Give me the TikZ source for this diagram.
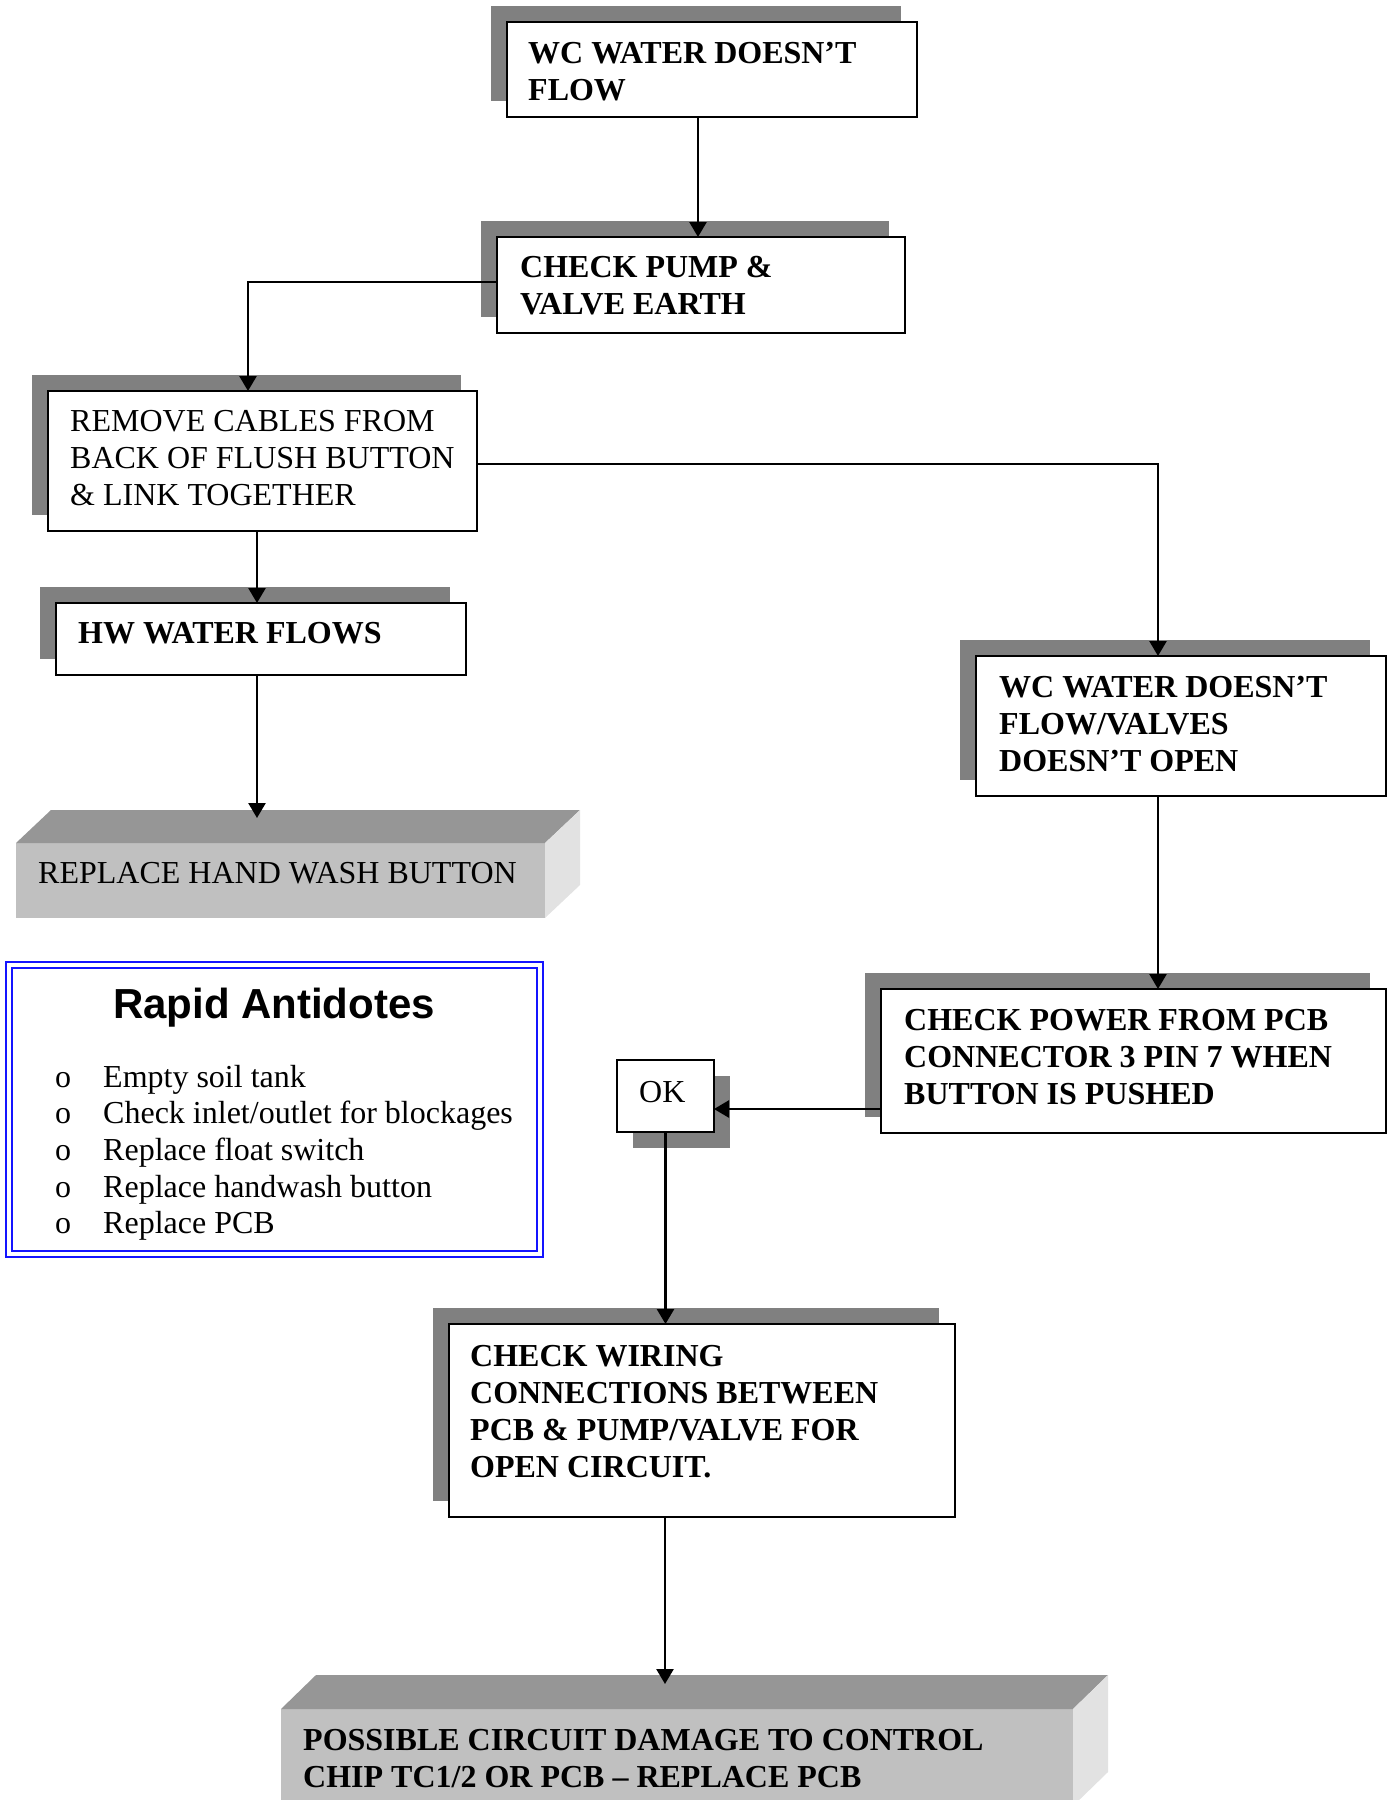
\documentclass[tikz,border=0pt]{standalone}
\usepackage{fontspec}
\setmainfont{Liberation Serif}
\newfontfamily\arialf{Liberation Sans}
\usetikzlibrary{arrows.meta}
\definecolor{shadowgray}{HTML}{808080}
\definecolor{frontgray}{HTML}{C0C0C0}
\definecolor{topgray}{HTML}{969696}
\definecolor{sidegray}{HTML}{E2E2E2}
\definecolor{rapidblue}{HTML}{1414FF}
\begin{document}
\begin{tikzpicture}[x=1pt,y=-1pt,
  box/.style={draw=black, line width=2.5pt, fill=white, inner sep=0pt, outer sep=0pt, anchor=north west},
  shade/.style={fill=shadowgray},
  face/.style={fill=frontgray, inner sep=0pt, outer sep=0pt, anchor=north west},
  tb/.style={anchor=base west, inner sep=0pt, align=left, font=\fontsize{32}{37}\selectfont\bfseries},
  tr/.style={anchor=base west, inner sep=0pt, align=left, font=\fontsize{32}{37}\selectfont},
  conn/.style={line width=2.5pt, -{Triangle[length=15pt,width=17pt]}},
]
\useasboundingbox (0,0) rectangle (1394,1800);
\clip (0,0) rectangle (1394,1800);

% shadows
\fill[shade] (491,6) rectangle ++(410,95);
\fill[shade] (481,221) rectangle ++(408,96);
\fill[shade] (32,375) rectangle ++(429,140);
\fill[shade] (40,587) rectangle ++(410,72);
\fill[shade] (960,640) rectangle ++(410,140);
\fill[shade] (865,973) rectangle ++(505,144);
\fill[shade] (633,1076) rectangle ++(97,72);
\fill[shade] (433,1308) rectangle ++(506,193);

% boxes
\node[box, minimum width=410, minimum height=95] (b1) at (507,22) {};
\node[box, minimum width=408, minimum height=96] (b2) at (497,237) {};
\node[box, minimum width=429, minimum height=140] (b3) at (48,391) {};
\node[box, minimum width=410, minimum height=72] (b4) at (56,603) {};
\node[box, minimum width=410, minimum height=140] (b6) at (976,656) {};
\node[box, minimum width=505, minimum height=144] (b7) at (881,989) {};
\node[box, minimum width=97, minimum height=72] (ok) at (617,1060) {};
\node[box, minimum width=506, minimum height=193] (b8) at (449,1324) {};

% 3D boxes
\node[face, minimum width=529, minimum height=75] (b5) at (16,843) {};
\fill[topgray] (b5.north west) -- ++(35,-33) -- ++(529,0) -- (b5.north east) -- cycle;
\fill[sidegray] (b5.north east) -- ++(35,-33) -- ++(0,75) -- (b5.south east) -- cycle;
\node[face, minimum width=792, minimum height=97] (b9) at (281,1709) {};
\fill[topgray] (b9.north west) -- ++(35,-34) -- ++(792,0) -- (b9.north east) -- cycle;
\fill[sidegray] (b9.north east) -- ++(35,-34) -- ++(0,97) -- (b9.south east) -- cycle;
\coordinate (b5top) at (257,818);
\coordinate (b9top) at (665,1684);

% texts (anchor = baseline of last line)
\node[tb] (t1) at (528,100) {WC WATER DOESN’T\\FLOW};
\node[tb] (t2) at (520,314) {CHECK PUMP \&\\VALVE EARTH};
\node[tr] (t3) at (70,505) {REMOVE CABLES FROM\\BACK OF FLUSH BUTTON\\\& LINK TOGETHER};
\node[tb] (t4) at (78,643) {HW WATER FLOWS};
\node[tr] (t5) at (38,883) {REPLACE HAND WASH BUTTON};
\node[tb] (t6) at (999,771) {WC WATER DOESN’T\\FLOW/VALVES\\DOESN’T OPEN};
\node[tb] (t7) at (904,1104) {CHECK POWER FROM PCB\\CONNECTOR 3 PIN 7 WHEN\\BUTTON IS PUSHED};
\node[tr] (tok) at (639,1102) {OK};
\node[tb] (t8) at (470,1477) {CHECK WIRING\\CONNECTIONS BETWEEN\\PCB \& PUMP/VALVE FOR\\OPEN CIRCUIT.};
\node[tb] (t9) at (303,1787) {POSSIBLE CIRCUIT DAMAGE TO CONTROL\\CHIP TC1/2 OR PCB – REPLACE PCB};

% rapid antidotes
\node[draw=rapidblue, line width=2.5pt, double=white, double distance=3.5pt, minimum width=531, minimum height=289, inner sep=0pt] (rapid) at (274.5,1109.5) {};
\node[anchor=base, inner sep=0pt, font=\arialf\bfseries\fontsize{42}{48}\selectfont] (rtitle) at (274,1018) {Rapid Antidotes};
\foreach \yy/\txt [count=\i] in {1087/Empty soil tank, 1123/Check inlet\slash outlet for blockages, 1160/Replace float switch, 1197/Replace handwash button, 1233/Replace PCB}{
  \node[tr] (bul\i) at (55,\yy) {o};
  \node[tr] (item\i) at (103,\yy) {\txt};
}

% connectors
\draw[conn] (698,0 |- b1.south) -- (698,0 |- b2.north);
\draw[conn] (b2.west |- 0,282) -- (248,282) -- (248,0 |- b3.north);
\draw[conn] (257,0 |- b3.south) -- (257,0 |- b4.north);
\draw[conn] (b3.east |- 0,464) -| (1158,0 |- b6.north);
\draw[conn] (257,0 |- b4.south) -- (b5top);
\draw[conn] (1158,0 |- b6.south) -- (1158,0 |- b7.north);
\draw[conn] (b7.west |- 0,1109) -- (ok.east |- 0,1109);
\draw[conn] (ok.south) -- (ok.south |- b8.north);
\draw[conn] (665,0 |- b8.south) -- (b9top);
\end{tikzpicture}
\end{document}
